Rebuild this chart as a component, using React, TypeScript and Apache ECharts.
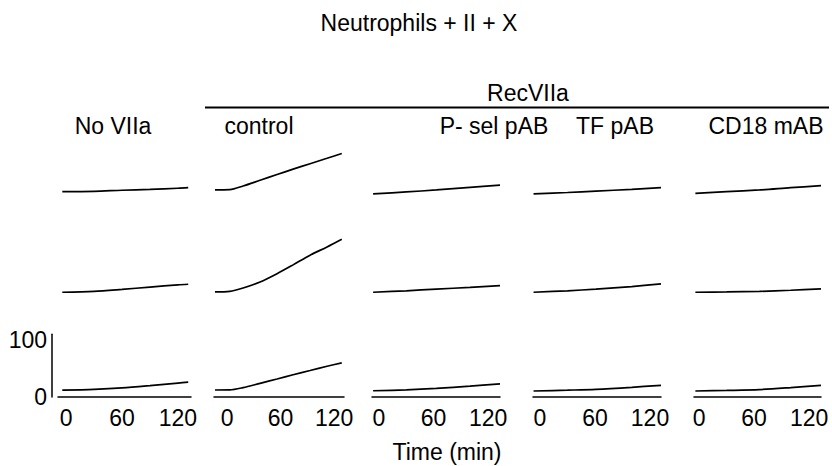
import React, { useEffect, useRef } from "react";
import * as echarts from "echarts";

// Column headers and labels
const TITLE = "Neutrophils + II + X";
const GROUP_LABEL = "RecVIIa";
const COLUMN_LABELS = ["No VIIa", "control", "P- sel pAB", "TF pAB", "CD18 mAB"];
const X_TICKS = [0, 60, 120];
const Y_TICKS = [0, 100];
const X_TITLE = "Time (min)";

// Time samples (min) per column
const TIME_NO_VIIA = [-4, 30, 60, 90, 120, 131];
const TIME_CONTROL = [-13.5, 3, 18, 37, 56, 74, 93, 112, 128.5];
const TIME_PSEL = [-6.5, 30, 63, 100, 133];
const TIME_TF = [-7, 30, 61, 100, 132];
const TIME_CD18 = [-4, 30, 66, 100, 133];

// Values per column: [row1, row2, row3]
const NO_VIIA = [
  [12, 12.5, 14.5, 16, 18, 19],
  [11, 12.5, 16, 20, 24, 25],
  [12, 13.5, 16, 20, 24.5, 26],
];
const CONTROL = [
  [15, 15.5, 22, 32, 42, 51.5, 61, 70.5, 79],
  [11.5, 12.5, 18.5, 29, 43.5, 59, 76, 90.5, 104],
  [12.3, 12.5, 16.5, 24, 31.5, 39, 46.5, 54, 60],
];
const PSEL = [
  [8, 11.5, 15, 19.5, 23.5],
  [11, 13.5, 16.5, 19.5, 22.5],
  [11, 12.5, 15, 19, 23],
];
const TF = [
  [8, 10.5, 13, 16, 19],
  [11, 13.5, 16.5, 21, 25.5],
  [10.5, 12, 13.5, 17, 20.5],
];
const CD18 = [
  [9, 12, 15, 19, 22.5],
  [11, 11.5, 12.5, 14.5, 17],
  [10.5, 11.5, 13, 16.5, 20.5],
];

const COLUMN_TIMES = [TIME_NO_VIIA, TIME_CONTROL, TIME_PSEL, TIME_TF, TIME_CD18];
const COLUMN_VALUES = [NO_VIIA, CONTROL, PSEL, TF, CD18];

// Layout (pixels / axis ranges)
const COL_LEFT = [58, 214, 372, 533, 694];
const COL_WIDTH = [133, 130, 128, 128, 127];
const COL_XMIN = [-8.6, -14.6, -7.7, -7.6, -5.5];
const COL_XMAX = [134, 131, 133, 132, 133];
const ROW_TOP = [135.8, 235.8, 334.3];
const ROW_HEIGHT = 62.7;
const Y_MAX = 110;

const FONT = "Liberation Sans, Arial, Helvetica, sans-serif";

export default function App() {
  const ref = useRef<HTMLDivElement>(null);

  useEffect(() => {
    if (!ref.current) return;
    const chart = echarts.init(ref.current, undefined, { renderer: "svg" });

    const grids: any[] = [];
    const xAxes: any[] = [];
    const yAxes: any[] = [];
    const series: any[] = [];

    for (let r = 0; r < 3; r++) {
      for (let c = 0; c < 5; c++) {
        const idx = r * 5 + c;
        const bottom = r === 2;
        grids.push({
          left: COL_LEFT[c],
          top: ROW_TOP[r],
          width: COL_WIDTH[c],
          height: ROW_HEIGHT,
        });
        xAxes.push({
          type: "value",
          gridIndex: idx,
          min: COL_XMIN[c],
          max: COL_XMAX[c],
          show: bottom,
          axisLine: { show: true, onZero: false, lineStyle: { color: "#000", width: 1.5 } },
          axisTick: { show: false },
          splitLine: { show: false },
          axisLabel: {
            show: true,
            customValues: X_TICKS,
            color: "#000",
            fontSize: 23,
            fontFamily: FONT,
            margin: 9,
            formatter: (v: number) => String(v),
          },
        });
        const showY = bottom && c === 0;
        yAxes.push({
          type: "value",
          gridIndex: idx,
          min: 0,
          max: Y_MAX,
          show: showY,
          offset: 6,
          axisLine: { show: true, onZero: false, lineStyle: { color: "#000", width: 1.5 } },
          axisTick: { show: false },
          splitLine: { show: false },
          axisLabel: {
            show: true,
            customValues: Y_TICKS,
            color: "#000",
            fontSize: 23,
            fontFamily: FONT,
            margin: 5,
            formatter: (v: number) => String(v),
          },
        });
        const times = COLUMN_TIMES[c];
        const vals = COLUMN_VALUES[c][r];
        series.push({
          type: "line",
          xAxisIndex: idx,
          yAxisIndex: idx,
          data: times.map((t, i) => [t, vals[i]]),
          showSymbol: false,
          smooth: 0.3,
          lineStyle: { color: "#000", width: 1.7 },
          silent: true,
        });
      }
    }

    const headerX = [113, 259, 494, 615, 766];
    const graphic: any[] = [
      {
        type: "text",
        style: {
          text: TITLE,
          x: 419,
          y: 23,
          textAlign: "center",
          textVerticalAlign: "middle",
          fill: "#000",
          font: `23px ${FONT}`,
        },
      },
      {
        type: "text",
        style: {
          text: GROUP_LABEL,
          x: 528,
          y: 93,
          textAlign: "center",
          textVerticalAlign: "middle",
          fill: "#000",
          font: `23px ${FONT}`,
        },
      },
      {
        type: "line",
        shape: { x1: 205, y1: 107.5, x2: 829, y2: 107.5 },
        style: { stroke: "#000", lineWidth: 2 },
      },
      ...COLUMN_LABELS.map((t, i) => ({
        type: "text",
        style: {
          text: t,
          x: headerX[i],
          y: 126,
          textAlign: "center",
          textVerticalAlign: "middle",
          fill: "#000",
          font: `23px ${FONT}`,
        },
      })),
      {
        type: "text",
        style: {
          text: X_TITLE,
          x: 447,
          y: 452,
          textAlign: "center",
          textVerticalAlign: "middle",
          fill: "#000",
          font: `23px ${FONT}`,
        },
      },
    ];

    chart.setOption({
      animation: false,
      backgroundColor: "#fff",
      grid: grids,
      xAxis: xAxes,
      yAxis: yAxes,
      series,
      graphic,
    });

    return () => chart.dispose();
  }, []);

  return (
    <div
      ref={ref}
      style={{ position: "fixed", left: 0, top: 0, width: 832, height: 466 }}
    />
  );
}
